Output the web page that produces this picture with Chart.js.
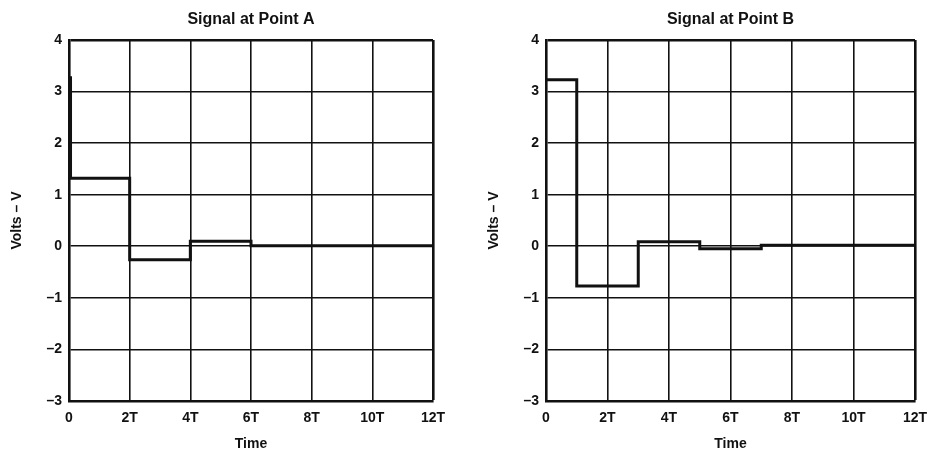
<!DOCTYPE html>
<html>
<head>
<meta charset="utf-8">
<script src="https://cdn.jsdelivr.net/npm/chart.js@4"></script>
<style>
  html, body { margin: 0; padding: 0; background: #fff; }
  #wrap { position: relative; width: 928px; height: 451px; }
  .box { position: absolute; top: 0; width: 464px; height: 451px; }
</style>
</head>
<body>
<div id="wrap">
  <div class="box" style="left:0"><canvas id="cA"></canvas></div>
  <div class="box" style="left:464px"><canvas id="cB"></canvas></div>
</div>
<script>
// ---- data ----
const titleA = 'Signal at Point A';
const titleB = 'Signal at Point B';
const timeA  = [0, 0.05, 2, 4, 6, 12];
const voltsA = [3.27, 1.32, -0.26, 0.10, 0.01, 0.01];
const timeB  = [0, 1, 3, 5, 7, 12];
const voltsB = [3.23, -0.77, 0.09, -0.05, 0.02, 0.02];
const xTicks = [0, 2, 4, 6, 8, 10, 12];
const xTickLabels = ['0', '2T', '4T', '6T', '8T', '10T', '12T'];
const yTicks = [-3, -2, -1, 0, 1, 2, 3, 4];
const yTickLabels = ['\u20133', '\u20132', '\u20131', '0', '1', '2', '3', '4'];
const xTitle = 'Time';
const yTitle = 'Volts \u2013 V';

const FONT = '"Liberation Sans", Arial, Helvetica, sans-serif';
const INK = '#111';

function makeChart(id, title, xs, ys, yWidth, padRight, yTitlePad) {
  const pts = xs.map((x, i) => ({ x: x, y: ys[i] }));
  return new Chart(document.getElementById(id), {
    type: 'line',
    data: {
      datasets: [{
        data: pts,
        stepped: true,
        borderColor: INK,
        borderWidth: 3,
        pointRadius: 0,
        fill: false,
        tension: 0
      }]
    },
    options: {
      responsive: false,
      animation: false,
      devicePixelRatio: 1,
      layout: { padding: { left: 0, right: padRight, top: 0, bottom: 0 } },
      plugins: {
        legend: { display: false },
        tooltip: { enabled: false },
        title: {
          display: true,
          text: title,
          fullSize: false,
          color: INK,
          font: { family: FONT, size: 16, weight: 'bold', lineHeight: 1.2 },
          padding: { top: 9.5, bottom: 11.3 }
        }
      },
      scales: {
        x: {
          type: 'linear',
          min: 0, max: 12,
          afterBuildTicks: (s) => { s.ticks = xTicks.map(v => ({ value: v })); },
          afterFit: (s) => { s.height = 50; s.paddingLeft = 0; s.paddingRight = 0; },
          ticks: {
            callback: (v) => xTickLabels[xTicks.indexOf(v)],
            color: INK,
            padding: 9,
            maxRotation: 0,
            font: { family: FONT, size: 14, weight: 'bold' }
          },
          grid: {
            drawTicks: false,
            color: INK,
            lineWidth: (c) => (c.index === xTicks.length - 1 ? 2.6 : 1.6)
          },
          border: { display: true, color: INK, width: 2.6 },
          title: {
            display: true,
            text: xTitle,
            color: INK,
            font: { family: FONT, size: 14, weight: 'bold', lineHeight: 1 },
            padding: { top: 0, bottom: 0 }
          }
        },
        y: {
          type: 'linear',
          min: -3, max: 4,
          afterBuildTicks: (s) => { s.ticks = yTicks.map(v => ({ value: v })); },
          afterFit: (s) => { s.width = yWidth; s.paddingTop = 0; s.paddingBottom = 0; },
          ticks: {
            callback: (v) => yTickLabels[yTicks.indexOf(v)],
            color: INK,
            padding: 7,
            font: { family: FONT, size: 14, weight: 'bold' }
          },
          grid: {
            drawTicks: false,
            color: INK,
            lineWidth: (c) => (c.index === yTicks.length - 1 ? 2.6 : 1.6)
          },
          border: { display: true, color: INK, width: 2.6 },
          title: {
            display: true,
            text: yTitle,
            color: INK,
            font: { family: FONT, size: 14, weight: 'bold', lineHeight: 1.2 },
            padding: { top: yTitlePad, bottom: 0 }
          }
        }
      }
    }
  });
}

function sizeCanvas(id) {
  const c = document.getElementById(id);
  c.width = 464; c.height = 451;
  c.style.width = '464px'; c.style.height = '451px';
}
sizeCanvas('cA'); sizeCanvas('cB');
makeChart('cA', titleA, timeA, voltsA, 69, 31, 9);
makeChart('cB', titleB, timeB, voltsB, 82, 13, 22);
</script>
</body>
</html>
